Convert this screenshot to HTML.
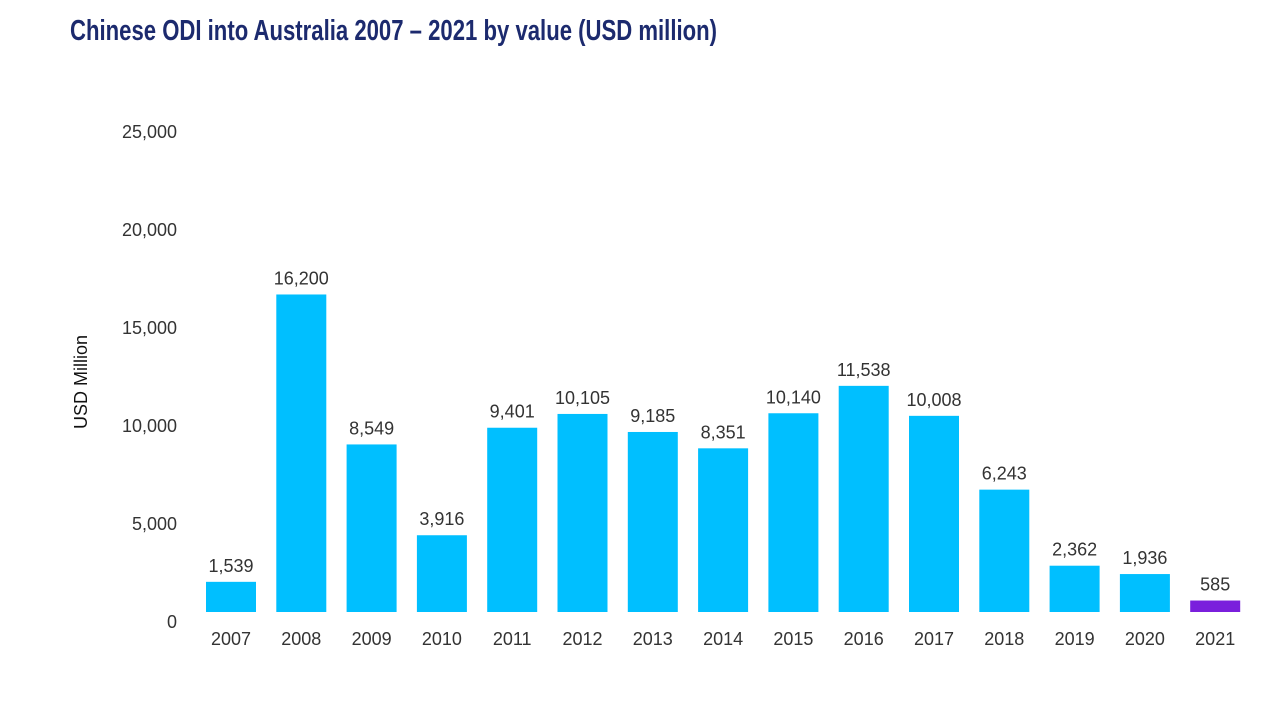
<!DOCTYPE html>
<html><head><meta charset="utf-8"><style>
html,body{margin:0;padding:0;background:#fff;width:1280px;height:721px;overflow:hidden}
svg{display:block}
text{font-family:"Liberation Sans",sans-serif}
</style></head><body>
<svg id="chart" width="1280" height="721">
<text x="70" y="40" font-size="29" font-weight="bold" fill="#1c2a6e" textLength="647" lengthAdjust="spacingAndGlyphs">Chinese ODI into Australia 2007 – 2021 by value (USD million)</text>
<text transform="translate(87,382) rotate(-90)" text-anchor="middle" font-size="18" fill="#111">USD Million</text>
<g id="yticks"></g><g id="bars"></g>
</svg>
<script>
const categories=["2007","2008","2009","2010","2011","2012","2013","2014","2015","2016","2017","2018","2019","2020","2021"];
const values=[1539,16200,8549,3916,9401,10105,9185,8351,10140,11538,10008,6243,2362,1936,585];
const valueLabels=["1,539","16,200","8,549","3,916","9,401","10,105","9,185","8,351","10,140","11,538","10,008","6,243","2,362","1,936","585"];
const tickValues=[0,5000,10000,15000,20000,25000];
const tickLabels=["0","5,000","10,000","15,000","20,000","25,000"];
const NS="http://www.w3.org/2000/svg";
const y=v=>612-v*0.0196;
const x=i=>206+i*70.3;
const yt=document.getElementById('yticks'),bg=document.getElementById('bars');
tickValues.forEach((v,i)=>{const t=document.createElementNS(NS,'text');
t.setAttribute('x',177);t.setAttribute('y',y(v)+16);t.setAttribute('text-anchor','end');t.setAttribute('font-size','18');t.setAttribute('fill','#333');


t.textContent=tickLabels[i];yt.appendChild(t);});
values.forEach((v,i)=>{const r=document.createElementNS(NS,'rect');
r.setAttribute('x',x(i));r.setAttribute('y',y(v));r.setAttribute('width',50);r.setAttribute('height',612-y(v));
r.setAttribute('fill',i==14?'#7a1fdc':'#00bfff');


bg.appendChild(r);
const l=document.createElementNS(NS,'text');l.setAttribute('x',x(i)+25);l.setAttribute('y',y(v)-10);l.setAttribute('text-anchor','middle');l.setAttribute('font-size','18');l.setAttribute('fill','#333');


l.textContent=valueLabels[i];bg.appendChild(l);
const c=document.createElementNS(NS,'text');c.setAttribute('x',x(i)+25);c.setAttribute('y',645);c.setAttribute('text-anchor','middle');c.setAttribute('font-size','18');c.setAttribute('fill','#333');


c.textContent=categories[i];bg.appendChild(c);});
</script>
</body></html>
